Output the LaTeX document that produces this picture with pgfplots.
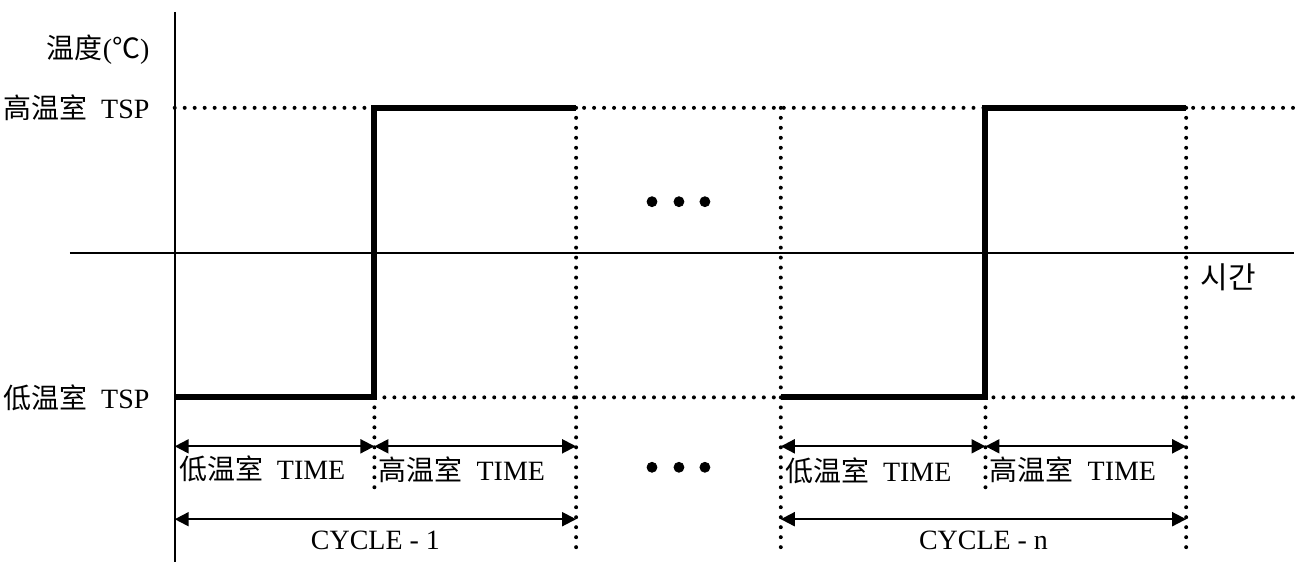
\documentclass[border=0pt]{standalone}
\usepackage{pgfplots}
\pgfplotsset{compat=1.18}
\usepackage{fontspec}
\setmainfont{Liberation Serif}
\newfontfamily\cjk{Noto Sans CJK SC}
\newfontfamily\kr{Noto Sans CJK KR}
\usetikzlibrary{arrows.meta}

\tikzset{
  dotline/.style={line width=2pt, line cap=round, dash pattern=on 0pt off 5pt},
  profile/.style={line width=3pt, line join=miter},
  span/.style={line width=1pt, {Triangle[length=7pt,width=7pt]}-{Triangle[length=7pt,width=7pt]}},
  lbl/.style={font=\fontsize{14}{16}\selectfont, inner sep=0pt},
}

\begin{document}
\begin{tikzpicture}
\begin{axis}[
  hide axis, scale only axis,
  width=648pt, height=281.5pt,
  xmin=0, xmax=1296, ymin=0, ymax=563, y dir=reverse,
  clip=false,
  every axis plot/.append style={no markers},
]
\path (rel axis cs:0,0) rectangle (rel axis cs:1,1);

% axes
\addplot[line width=0.9pt] coordinates {(175,12) (175,563)};
\addplot[line width=0.9pt] coordinates {(70,253) (1296,253)};

% dotted guides
\addplot[dotline] coordinates {(175,108) (1296,108)};
\addplot[dotline] coordinates {(375,398) (1296,398)};
\addplot[dotline] coordinates {(375,398) (375,490)};
\addplot[dotline] coordinates {(577,108) (577,548)};
\addplot[dotline] coordinates {(782,108) (782,548)};
\addplot[dotline] coordinates {(987,398) (987,490)};
\addplot[dotline] coordinates {(1188,108) (1188,548)};

% temperature profile
\addplot[profile] coordinates {(175,398) (375,398) (375,108) (577,108)};
\addplot[profile] coordinates {(782,398) (987,398) (987,108) (1188,108)};

% spans
\addplot[span] coordinates {(175,447) (375,447)};
\addplot[span] coordinates {(375,447) (577,447)};
\addplot[span] coordinates {(782,447) (987,447)};
\addplot[span] coordinates {(987,447) (1188,447)};
\addplot[span] coordinates {(175,520) (577,520)};
\addplot[span] coordinates {(782,520) (1188,520)};

% ellipsis dots
\addplot[only marks, mark=*, mark size=2.5pt] coordinates
  {(653,202) (680,202) (706,202) (653,468) (680,468) (706,468)};

% labels
\node[lbl, anchor=east] at (axis cs:150,50) {{\cjk 温度}({\cjk ℃})};
\node[lbl, anchor=east] at (axis cs:150,108) {{\cjk 高温室}\hspace{0.5em}TSP};
\node[lbl, anchor=east] at (axis cs:150,398) {{\cjk 低温室}\hspace{0.5em}TSP};
\node[lbl, anchor=west, font=\fontsize{15}{17}\selectfont] at (axis cs:1202,278) {{\kr 시간}};
\node[lbl, anchor=west] at (axis cs:179,470) {{\cjk 低温室}\hspace{0.5em}TIME};
\node[lbl, anchor=west] at (axis cs:379,470) {{\cjk 高温室}\hspace{0.5em}TIME};
\node[lbl, anchor=west] at (axis cs:786,472) {{\cjk 低温室}\hspace{0.5em}TIME};
\node[lbl, anchor=west] at (axis cs:991,470) {{\cjk 高温室}\hspace{0.5em}TIME};
\node[lbl] at (axis cs:376,541) {CYCLE - 1};
\node[lbl] at (axis cs:985,541) {CYCLE - n};
\end{axis}
\end{tikzpicture}
\end{document}
